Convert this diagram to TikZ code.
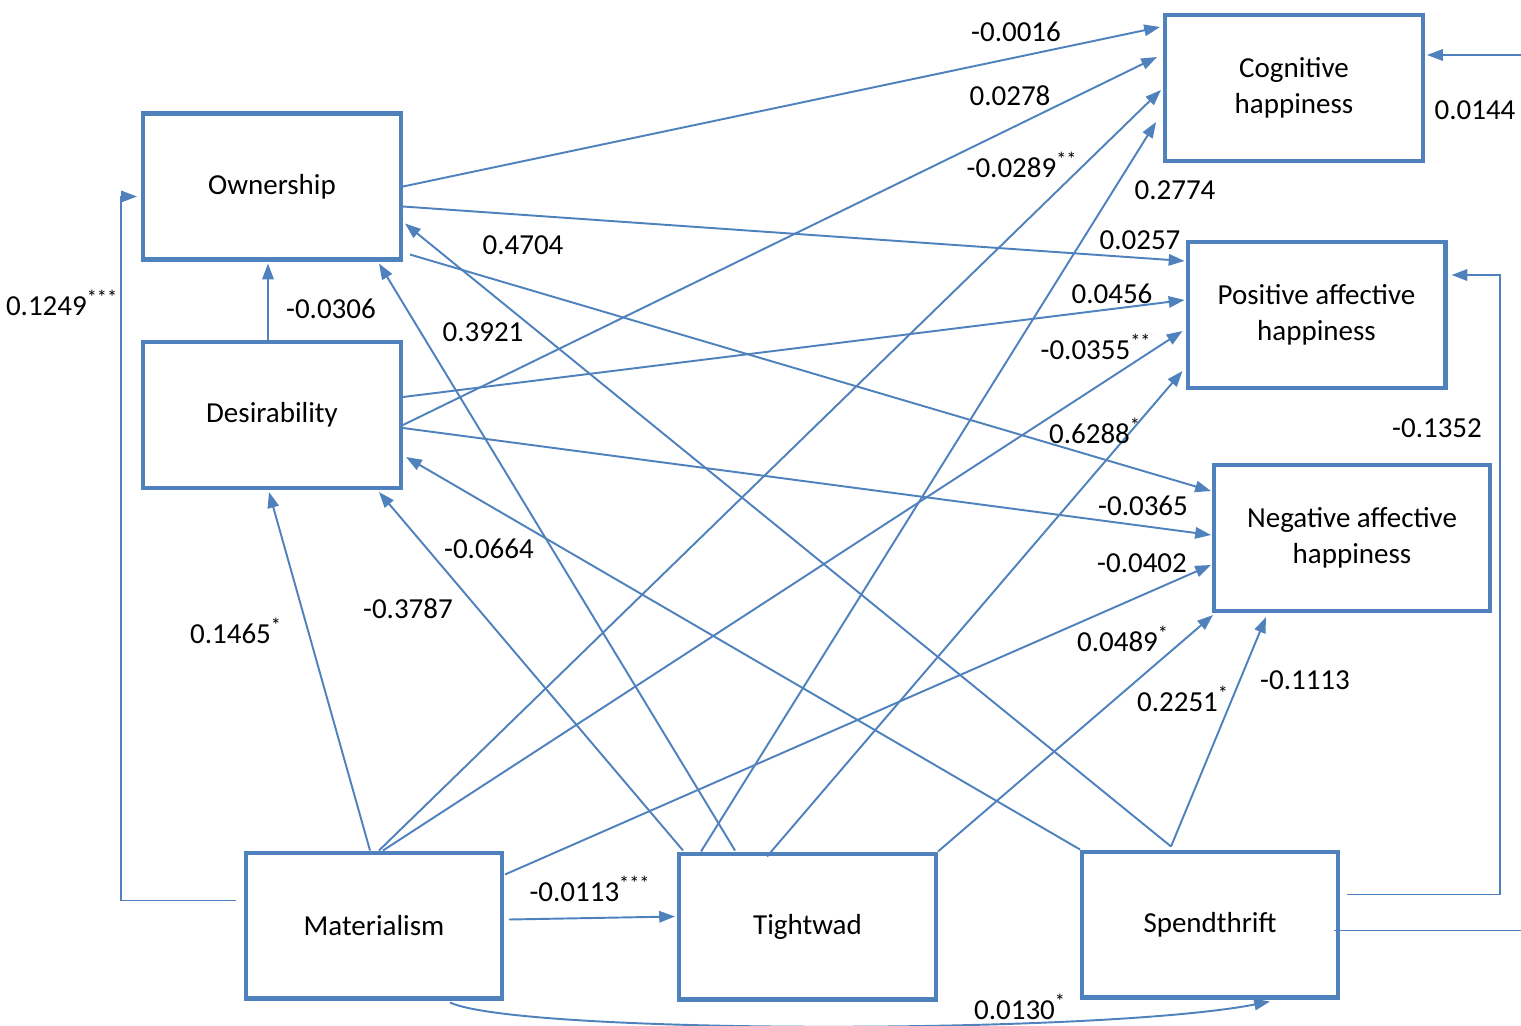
\documentclass[tikz,border=0pt]{standalone}
\usepackage{fontspec}
\setmainfont{Carlito}
\usetikzlibrary{arrows.meta,positioning}
\usetikzlibrary{calc}
\definecolor{linkblue}{RGB}{79,129,189}

\begin{document}
\begin{tikzpicture}[x = 0.02cm, y = -0.02cm,
        varbox/.style = {draw = linkblue, line width = 2.3pt, minimum width = #1, minimum height = 2.92cm,
            inner sep = 0, align = center, font = \fontsize{16.5}{20.4}\selectfont},
        varbox/.default = 5.16cm,
        link/.style = {linkblue, line width = 1.1pt, -{Triangle[length = 9pt, width = 6.5pt]}},
        coef/.style = {inner sep = 1pt, font = \fontsize{16.5}{20}\selectfont}]

        \useasboundingbox (0,0) rectangle (1521,1025);

        % Happiness boxes
        \node[varbox] (cog_box) at (1294,88) {Cognitive\\happiness};
        \node[varbox] (pos_box) at (1316.5,315) {Positive affective\\happiness};
        \node[varbox = 5.52cm] (neg_box) at (1352,538) {Negative affective\\happiness};

        % Mediators
        \node[varbox] (own_box) at (272,186.5) {Ownership};
        \node[varbox] (des_box) at (272,415) {Desirability};

        % Predictors
        \node[varbox = 5.12cm] (mat_box) at (374,925.5) {Materialism};
        \node[varbox = 5.14cm] (tig_box) at (807.5,926.5) {Tightwad};
        \node[varbox = 5.12cm] (spe_box) at (1210,924.5) {Spendthrift};

        % Paths to cognitive happiness
        \draw[link] (own_box.east) -- ($(cog_box.north west)+(-3,14)$);
        \draw[link] ($(des_box.east)+(0,10)$) -- ($(cog_box.north west)+(-6,44)$);
        \draw[link] ($(mat_box.north)+(5,0)$) -- ($(cog_box.north west)+(-2,77)$);
        \draw[link] ($(tig_box.north west)+(24,0)$) -- ($(cog_box.north west)+(-7,109)$);
        \draw[link] ($(spe_box.east)+(-6,6)$) -- ++(200,0) |- ($(cog_box.east)+(2,-33)$);

        % Paths to positive affective happiness
        \draw[link] ($(own_box.east)+(0,20)$) -- ($(pos_box.north west)+(-1,21)$);
        \draw[link] ($(des_box.east)+(0,-18)$) -- ($(pos_box.north west)+(-1,60)$);
        \draw[link] ($(mat_box.north)+(9,0)$) -- ($(pos_box.north west)+(-3,91)$);
        \draw[link] ($(tig_box.north west)+(90,5)$) -- ($(pos_box.north west)+(-3,131)$);
        \draw[link] ($(spe_box.east)+(7,-30)$) -- ++(153,0) |- ($(pos_box.east)+(4,-40)$);

        % Paths to negative affective happiness
        \draw[link] ($(own_box.south east)+(7,-7)$) -- ($(neg_box.north west)+(-1,28)$);
        \draw[link] ($(des_box.east)+(0,13)$) -- ($(neg_box.north west)+(-1,72)$);
        \draw[link] ($(mat_box.north east)+(1,24)$) -- ($(neg_box.north west)+(-1,102)$);
        \draw[link] (tig_box.north east) -- ($(neg_box.south west)+(1,2)$);
        \draw[link] ($(spe_box.north west)+(91,-3)$) -- ($(neg_box.south west)+(54,4)$);

        % Paths to the mediators
        \draw[link] ($(mat_box.west)+(-8,-25)$) -- ++(-115,0) |- ($(own_box.west)+(-4,10)$);
        \draw[link] ($(des_box.north)+(-4,0)$) -- ($(own_box.south)+(-4,2)$);
        \draw[link] ($(tig_box.north west)+(58,-1)$) -- ($(own_box.south east)+(-24,2)$);
        \draw[link] ($(spe_box.north west)+(91,-3)$) -- ($(own_box.south east)+(2,-38)$);
        \draw[link] ($(mat_box.north)+(-4,0)$) -- ($(des_box.south)+(-3,2)$);
        \draw[link] ($(tig_box.north west)+(6,-1)$) -- ($(des_box.south east)+(-24,2)$);
        \draw[link] (spe_box.north west) -- ($(des_box.south east)+(3,-33)$);

        % Between the predictors
        \draw[link] ($(mat_box.east)+(5,-6)$) -- ($(tig_box.west)+(-2,-10)$);
        \draw[link] ($(mat_box.south)+(76,2)$) .. controls ($(mat_box.south)+(146,34)$) and ($(spe_box.south)+(-110,35)$) .. ($(spe_box.south)+(60,2)$);

        % Coefficients
        \node[coef] (c_own_cog) at (1016,32) {-0.0016};
        \node[coef] (c_des_cog) at (1010,96) {0.0278};
        \node[coef] (c_mat_cog) at (1022,165) {-0.0289\textsuperscript{**}};
        \node[coef] (c_tig_cog) at (1175,190) {0.2774};
        \node[coef] (c_spe_cog) at (1475,110) {0.0144};
        \node[coef] (c_own_pos) at (1140,240) {0.0257};
        \node[coef] (c_des_pos) at (1112,294) {0.0456};
        \node[coef] (c_mat_pos) at (1096,347) {-0.0355\textsuperscript{**}};
        \node[coef] (c_tig_pos) at (1095,431) {0.6288\textsuperscript{*}};
        \node[coef] (c_spe_pos) at (1437,428) {-0.1352};
        \node[coef] (c_own_neg) at (1143,506) {-0.0365};
        \node[coef] (c_des_neg) at (1142,563) {-0.0402};
        \node[coef] (c_mat_neg) at (1123,639) {0.0489\textsuperscript{*}};
        \node[coef] (c_tig_neg) at (1183,699) {0.2251\textsuperscript{*}};
        \node[coef] (c_spe_neg) at (1305,680) {-0.1113};
        \node[coef] (c_spe_own) at (523,245) {0.4704};
        \node[coef] (c_tig_own) at (483,332) {0.3921};
        \node[coef] (c_des_own) at (331,309) {-0.0306};
        \node[coef] (c_mat_own) at (62,303) {0.1249\textsuperscript{***}};
        \node[coef] (c_spe_des) at (489,549) {-0.0664};
        \node[coef] (c_tig_des) at (408,609) {-0.3787};
        \node[coef] (c_mat_des) at (236,631) {0.1465\textsuperscript{*}};
        \node[coef] (c_mat_tig) at (590,889) {-0.0113\textsuperscript{***}};
        \node[coef] (c_mat_spe) at (1020,1007) {0.0130\textsuperscript{*}};
    \end{tikzpicture}
\end{document}
